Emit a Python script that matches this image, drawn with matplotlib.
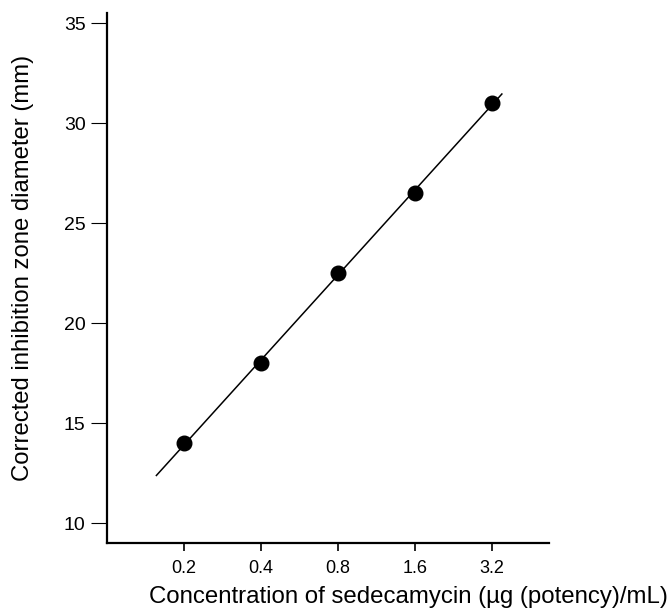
import numpy as np
import matplotlib
matplotlib.use("Agg")
import matplotlib.pyplot as plt
from matplotlib.ticker import FixedLocator, NullLocator

plt.rcParams['font.family'] = ['Liberation Sans', 'DejaVu Sans']

conc = [0.2, 0.4, 0.8, 1.6, 3.2]
diameter = [14.0, 18.0, 22.5, 26.5, 31.0]
tick_labels = ["0.2", "0.4", "0.8", "1.6", "3.2"]
line_range = [0.156, 3.5]
y_ticks = [10, 15, 20, 25, 30, 35]

fig = plt.figure(figsize=(6.71, 6.11), dpi=100)
ax = fig.add_axes([107/671, 1-543/611, 442/671, 530/611])

# regression line in log2 space
lx = np.log2(conc)
slope, intercept = np.polyfit(lx, diameter, 1)
xr = np.array(line_range)
ax.plot(xr, slope*np.log2(xr) + intercept, color='black', lw=1.1)
ax.plot(conc, diameter, 'o', color='black', ms=10.5)

ax.set_xscale('log', base=2)
ax.set_xlim(0.1, 5.35)
ax.set_ylim(9, 35.5)
ax.xaxis.set_major_locator(FixedLocator(conc))
ax.xaxis.set_minor_locator(NullLocator())
ax.set_xticklabels(tick_labels)
ax.set_yticks(y_ticks)

for s in ['top', 'right']:
    ax.spines[s].set_visible(False)
for s in ['left', 'bottom']:
    ax.spines[s].set_linewidth(1.6)

ax.tick_params(axis='y', direction='out', length=11.5, width=0.8, labelsize=14, pad=4)
ax.tick_params(axis='x', direction='out', length=6, width=1.2, labelsize=13, pad=6)

ax.set_xlabel("Concentration of sedecamycin (µg (potency)/mL)", fontsize=17.3)
ax.xaxis.set_label_coords((668-107)/442, -0.082)
ax.xaxis.label.set_horizontalalignment('right')
ax.set_ylabel("Corrected inhibition zone diameter (mm)", fontsize=17.2)
ax.yaxis.set_label_coords(-0.165, 0.519)

fig.savefig("out.png", dpi=100)
